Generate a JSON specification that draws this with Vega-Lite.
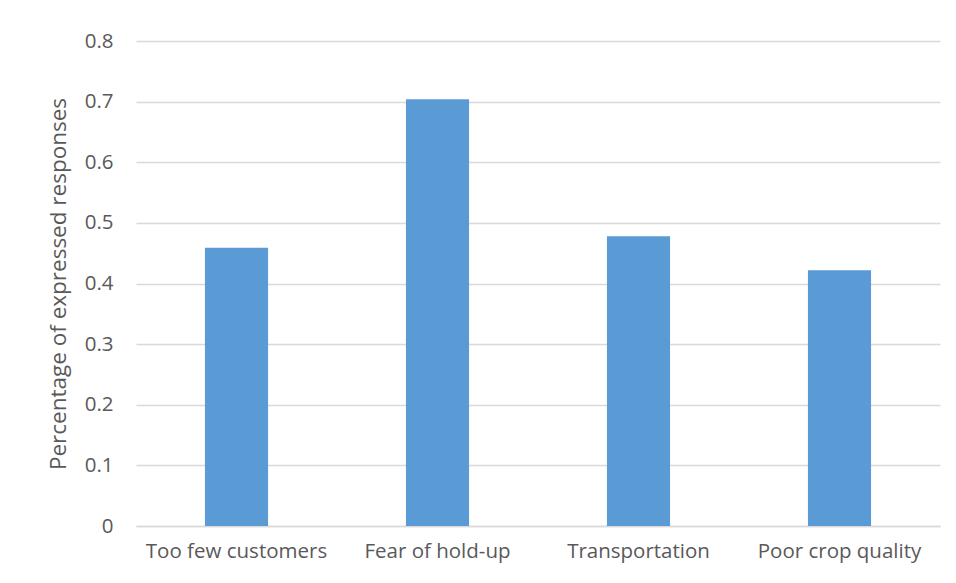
{
  "$schema": "https://vega.github.io/schema/vega-lite/v6.json",
  "autosize": {"type": "none"},
  "padding": {"left": 136, "top": 41, "right": 16, "bottom": 57},
  "width": 804,
  "height": 485,
  "background": "white",
  "data": {
    "values": [
      {"reason": "Too few customers", "share": 0.459},
      {"reason": "Fear of hold-up", "share": 0.704},
      {"reason": "Transportation", "share": 0.478},
      {"reason": "Poor crop quality", "share": 0.422}
    ]
  },
  "mark": {"type": "bar", "color": "#5b9bd5"},
  "encoding": {
    "x": {
      "field": "reason",
      "type": "nominal",
      "sort": null,
      "scale": {"paddingInner": 0.686, "paddingOuter": 0.343},
      "axis": {
        "title": null,
        "labelAngle": 0,
        "labelLimit": 320,
        "ticks": false,
        "labelPadding": 15,
        "domainColor": "#d9d9d9",
        "domainWidth": 1.5
      }
    },
    "y": {
      "field": "share",
      "type": "quantitative",
      "scale": {"domain": [0, 0.8], "nice": false},
      "axis": {
        "title": "Percentage of expressed responses",
        "values": [0, 0.1, 0.2, 0.3, 0.4, 0.5, 0.6, 0.7, 0.8],
        "format": "~g",
        "ticks": false,
        "domain": false,
        "labelPadding": 23,
        "titlePadding": 14,
        "gridColor": "#d9d9d9",
        "gridWidth": 1.5
      }
    }
  },
  "config": {
    "view": {"stroke": null},
    "axis": {
      "labelFont": "Open Sans",
      "labelFontSize": 20.5,
      "labelColor": "#595959",
      "titleFont": "Open Sans",
      "titleFontSize": 22.5,
      "titleFontWeight": "normal",
      "titleColor": "#595959"
    }
  }
}
